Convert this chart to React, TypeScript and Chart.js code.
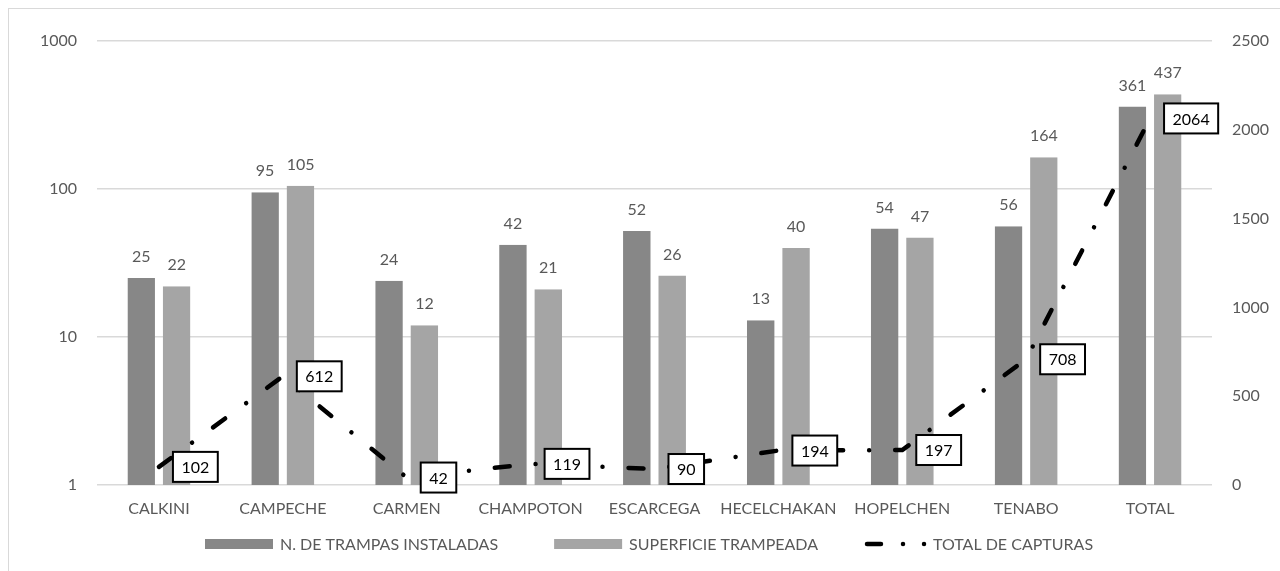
import React, { useEffect, useRef } from "react";
import { Chart, registerables } from "chart.js";

Chart.register(...registerables);

const categories = ["CALKINI", "CAMPECHE", "CARMEN", "CHAMPOTON", "ESCARCEGA", "HECELCHAKAN", "HOPELCHEN", "TENABO", "TOTAL"];
const trampas = [25, 95, 24, 42, 52, 13, 54, 56, 361];
const superficie = [22, 105, 12, 21, 26, 40, 47, 164, 437];
const capturas = [102, 612, 42, 119, 90, 194, 197, 708, 2064];
const leftTicks = [1, 10, 100, 1000];
const seriesNames = ["N. DE TRAMPAS INSTALADAS", "SUPERFICIE TRAMPEADA", "TOTAL DE CAPTURAS"];

const DARK = "#878787";
const LIGHT = "#a5a5a5";
const GRID = "#d9d9d9";
const TEXT = "#595959";
const FONT = "Lato, 'Open Sans', sans-serif";
const FS = 16;
const LINE_DASH = [15, 26, 0.01, 26];

const labelsPlugin = {
  id: "customLabels",
  afterDatasetsDraw(chart: any) {
    const ctx = chart.ctx;
    ctx.save();
    ctx.font = `${FS}px ${FONT}`;
    ctx.textAlign = "center";
    ctx.textBaseline = "middle";
    [0, 1].forEach((di) => {
      const meta = chart.getDatasetMeta(di);
      const vals = chart.data.datasets[di].data;
      meta.data.forEach((el: any, i: number) => {
        const off = di === 0 ? -2 : 2;
        ctx.fillStyle = TEXT;
        ctx.fillText(String(vals[i]), el.x + off, el.y - 21);
      });
    });
    const lm = chart.getDatasetMeta(2);
    const lv = chart.data.datasets[2].data;
    lm.data.forEach((pt: any, i: number) => {
      const txt = String(lv[i]);
      const tw = ctx.measureText(txt).width;
      const w = tw + 17;
      const h = 30;
      const x0 = pt.x + 14;
      const y0 = pt.y - h / 2;
      ctx.fillStyle = "#ffffff";
      ctx.fillRect(x0, y0, w, h);
      ctx.strokeStyle = "#000000";
      ctx.lineWidth = 2;
      ctx.strokeRect(x0, y0, w, h);
      ctx.fillStyle = "#000000";
      ctx.textAlign = "center";
      ctx.fillText(txt, x0 + w / 2, pt.y + 1);
    });
    ctx.restore();
  },
};

const legendPlugin = {
  id: "customLegend",
  afterDraw(chart: any) {
    const ctx = chart.ctx;
    const area = chart.chartArea;
    ctx.save();
    ctx.font = `${FS}px ${FONT}`;
    const sw = 68;
    const tg = 7;
    const gaps = [56, 47];
    const widths = seriesNames.map((s) => ctx.measureText(s).width);
    let x = area.left + 108;
    const cy = 544;
    seriesNames.forEach((name, i) => {
      if (i < 2) {
        ctx.fillStyle = i === 0 ? DARK : LIGHT;
        ctx.fillRect(x, cy - 5, sw, 10);
        x += sw + tg;
      } else {
        ctx.save();
        ctx.strokeStyle = "#000";
        ctx.lineWidth = 4.5;
        ctx.lineCap = "round";
        ctx.setLineDash([14, 22, 0.01, 21, 0.01, 200]);
        ctx.beginPath();
        ctx.moveTo(x + 2, cy);
        ctx.lineTo(x + 64, cy);
        ctx.stroke();
        ctx.restore();
        x += 68;
      }
      ctx.fillStyle = TEXT;
      ctx.textAlign = "left";
      ctx.textBaseline = "middle";
      ctx.fillText(name, x, cy + 1);
      x += widths[i] + (gaps[i] || 0);
    });
    ctx.restore();
  },
};

export default function App() {
  const ref = useRef<HTMLCanvasElement>(null);
  useEffect(() => {
    if (!ref.current) return;
    const chart = new Chart(ref.current, {
      type: "bar",
      data: {
        labels: categories,
        datasets: [
          {
            type: "bar",
            label: seriesNames[0],
            data: trampas,
            backgroundColor: DARK,
            borderColor: "rgba(0,0,0,0)",
            borderWidth: { left: 0, right: 4, top: 0, bottom: 0 },
            borderSkipped: false,
            barPercentage: 1,
            categoryPercentage: 0.508,
            yAxisID: "y",
            order: 2,
          } as any,
          {
            type: "bar",
            label: seriesNames[1],
            data: superficie,
            backgroundColor: LIGHT,
            borderColor: "rgba(0,0,0,0)",
            borderWidth: { left: 4, right: 0, top: 0, bottom: 0 },
            borderSkipped: false,
            barPercentage: 1,
            categoryPercentage: 0.508,
            yAxisID: "y",
            order: 2,
          } as any,
          {
            type: "line",
            label: seriesNames[2],
            data: capturas,
            borderColor: "#000000",
            borderWidth: 4.5,
            borderDash: LINE_DASH,
            borderCapStyle: "round",
            pointRadius: 0,
            tension: 0,
            fill: false,
            yAxisID: "y1",
            order: 0,
          } as any,
        ],
      },
      options: {
        animation: false,
        responsive: false,
        devicePixelRatio: 1,
        layout: { padding: { top: 41, left: 0, right: 0, bottom: 0 } },
        plugins: {
          legend: { display: false },
          tooltip: { enabled: false },
        },
        scales: {
          x: {
            grid: { display: false, drawTicks: false },
            border: { display: false },
            ticks: { color: TEXT, font: { family: FONT, size: FS }, padding: 14, maxRotation: 0, autoSkip: false },
            afterFit(scale: any) {
              scale.height = 86;
            },
          },
          y: {
            type: "logarithmic",
            position: "left",
            min: 1,
            max: 1000,
            grid: { color: GRID, lineWidth: 1.5, drawTicks: false },
            border: { display: false },
            ticks: { color: TEXT, font: { family: FONT, size: FS }, padding: 20, callback: (v: any) => String(v) },
            afterBuildTicks(scale: any) {
              scale.ticks = leftTicks.map((v) => ({ value: v }));
            },
            afterFit(scale: any) {
              scale.width = 97;
            },
          },
          y1: {
            type: "linear",
            position: "right",
            min: 0,
            max: 2500,
            grid: { display: false, drawTicks: false },
            border: { display: false },
            ticks: { stepSize: 500, color: TEXT, font: { family: FONT, size: FS }, padding: 20, callback: (v: any) => String(v) },
            afterFit(scale: any) {
              scale.width = 68;
            },
          },
        },
      } as any,
      plugins: [labelsPlugin, legendPlugin],
    });
    return () => chart.destroy();
  }, []);

  return (
    <div style={{ position: "absolute", left: 0, top: 0, width: 1280, height: 571, overflow: "hidden", background: "#fff" }}>
      <div style={{ position: "absolute", left: 8, top: 8, width: 1400, height: 700, border: `1px solid ${GRID}` }} />
      <canvas ref={ref} width={1280} height={571} style={{ position: "absolute", left: 0, top: 0, width: 1280, height: 571 }} />
    </div>
  );
}
